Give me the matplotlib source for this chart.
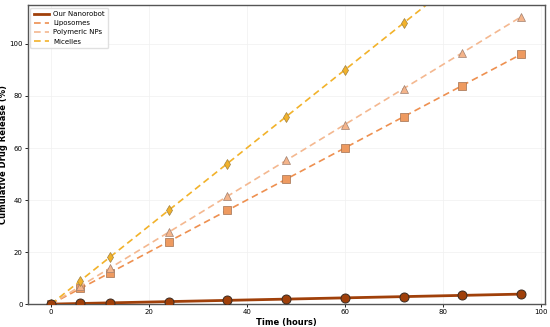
import matplotlib
matplotlib.use("Agg")
import matplotlib.pyplot as plt
from matplotlib.lines import Line2D

time_h = [0, 6, 12, 24, 36, 48, 60, 72, 84, 96]
nanorobot = [0, 0.24, 0.48, 0.96, 1.44, 1.92, 2.4, 2.88, 3.36, 3.84]
liposomes = [0, 6, 12, 24, 36, 48, 60, 72, 84, 96]
polymeric = [0, 6.9, 13.8, 27.6, 41.4, 55.2, 69, 82.8, 96.6, 110.4]
micelles = [0, 9, 18, 36, 54, 72, 90, 108, 126, 144]

c_nano = "#A0400A"
c_lipo = "#EE9050"
c_poly = "#F4B890"
c_mic = "#F2B22A"

fig, ax = plt.subplots(figsize=(5.5, 3.27), dpi=100)

ax.plot(time_h, nanorobot, color=c_nano, lw=2.0, marker="o", ms=6.5,
        mfc=c_nano, mec="#3a2a20", mew=0.7, zorder=5)
ax.plot(time_h, liposomes, color=c_lipo, lw=1.2, ls=(0, (4, 2.5)), marker="s", ms=5.5,
        mfc="#EE9A60", mec="#a07050", mew=0.5)
ax.plot(time_h, polymeric, color=c_poly, lw=1.2, ls=(0, (4, 2.5)), marker="^", ms=5.5,
        mfc="#F4B48A", mec="#a08070", mew=0.5)
ax.plot(time_h, micelles, color=c_mic, lw=1.2, ls=(0, (4, 2.5)), marker="d", ms=5.5,
        mfc=c_mic, mec="#a08040", mew=0.5)

ax.set_xlim(-4.8, 100.8)
ax.set_ylim(0, 115)
ax.set_xlabel("Time (hours)", fontsize=6, fontweight="bold", labelpad=2)
ax.set_ylabel("Cumulative Drug Release (%)", fontsize=6, fontweight="bold")
ax.yaxis.set_label_coords(-0.038, 0.5)
ax.tick_params(labelsize=5, length=2, width=0.6, pad=1.5)
ax.grid(True, color="#f0f0f0", lw=0.5)
for s in ax.spines.values():
    s.set_color("#555555")
    s.set_linewidth(1.0)

handles = [
    Line2D([], [], color=c_nano, lw=2.0),
    Line2D([], [], color=c_lipo, lw=1.2, ls=(0, (4, 2.5))),
    Line2D([], [], color=c_poly, lw=1.2, ls=(0, (4, 2.5))),
    Line2D([], [], color=c_mic, lw=1.2, ls=(0, (4, 2.5))),
]
labels = ["Our Nanorobot", "Liposomes", "Polymeric NPs", "Micelles"]
ax.legend(handles, labels, loc="upper left", fontsize=5, frameon=True, framealpha=0.9,
          edgecolor="#dddddd", handlelength=2.2, borderpad=0.5, labelspacing=0.45,
          handletextpad=0.6, borderaxespad=0.4)

plt.subplots_adjust(left=0.05, right=0.99, bottom=0.07, top=0.985)
plt.savefig("out.png", dpi=100)
